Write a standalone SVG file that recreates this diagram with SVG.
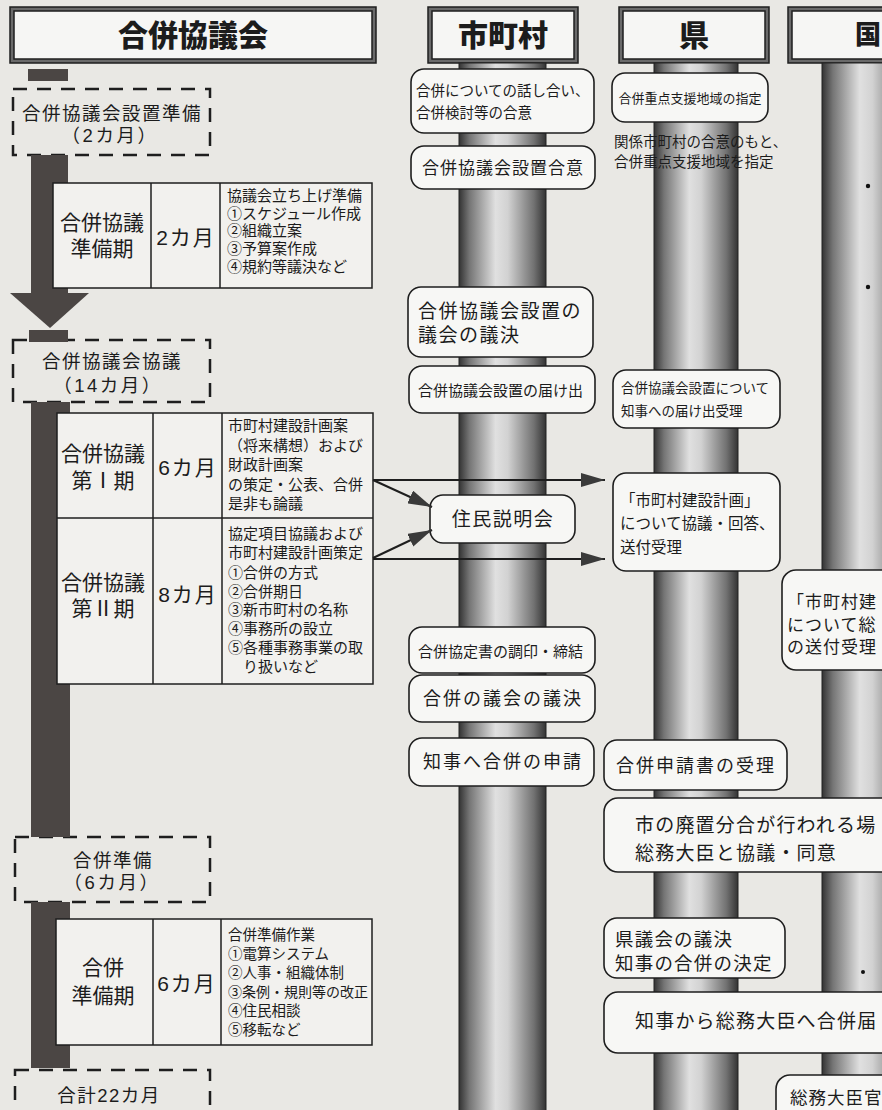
<svg xmlns="http://www.w3.org/2000/svg" width="882" height="1110" viewBox="0 0 882 1110">
<defs>
<linearGradient id="pg" x1="0" y1="0" x2="1" y2="0">
 <stop offset="0" stop-color="#333"/>
 <stop offset="0.12" stop-color="#757575"/>
 <stop offset="0.42" stop-color="#e0e0e0"/>
 <stop offset="0.56" stop-color="#d2d2d2"/>
 <stop offset="0.86" stop-color="#727272"/>
 <stop offset="1" stop-color="#333"/>
</linearGradient>
<marker id="ah" viewBox="0 0 24 14" refX="24" refY="7" markerWidth="24" markerHeight="14" markerUnits="userSpaceOnUse" orient="auto">
 <path d="M0,0 L24,7 L0,14 z" fill="#3a3a3a"/>
</marker>
<style>
 text{font-family:"Liberation Sans","Noto Sans CJK JP","Noto Sans CJK SC",sans-serif;fill:#1c1c1c}
 .hdo{fill:#6a6a6a;stroke:#1e1e1e;stroke-width:1.5}
 .hdi{fill:#f6f6f4;stroke:#1e1e1e;stroke-width:1.5}
 .hdt{font-size:30px;font-weight:900;text-anchor:middle;dominant-baseline:central}
 .pil{fill:url(#pg);stroke:#222;stroke-width:1}
 .nd{fill:#f7f7f5;stroke:#1e1e1e;stroke-width:1.6}
 .tb{fill:#f2f1ee;stroke:#1e1e1e;stroke-width:1.5}
 .bar{fill:#4b4644}
 .dash{fill:none;stroke:#1e1e1e;stroke-width:2.5;stroke-dasharray:14 10}
 .c{text-anchor:middle;dominant-baseline:central}
 .l{dominant-baseline:central}
 .big{font-size:21px}
 .sm{font-size:15px}
 .stg{font-size:18.5px;letter-spacing:1.5px}
 .con{stroke:#1e1e1e;stroke-width:2;fill:none}
 .div{stroke:#1e1e1e;stroke-width:1.5}
 .dot{fill:#111}
</style>
</defs>
<rect x="0" y="0" width="882" height="1110" fill="#e9e8e4"/>

<!-- lane headers -->
<g id="hdr-kyogikai">
 <rect class="hdo" x="10" y="7" width="366" height="56"/>
 <rect class="hdi" x="14" y="11" width="358" height="48"/>
 <text class="hdt" x="193" y="35">合併協議会</text>
</g>
<g id="hdr-shichoson">
 <rect class="hdo" x="428" y="7" width="150" height="56"/>
 <rect class="hdi" x="432" y="11" width="142" height="48"/>
 <text class="hdt" x="503" y="35">市町村</text>
</g>
<g id="hdr-ken">
 <rect class="hdo" x="619" y="7" width="150" height="56"/>
 <rect class="hdi" x="623" y="11" width="142" height="48"/>
 <text class="hdt" x="694" y="35">県</text>
</g>
<g id="hdr-kuni">
 <rect class="hdo" x="788" y="7" width="150" height="56"/>
 <rect class="hdi" x="792" y="11" width="142" height="48"/>
 <text class="hdt" x="868" y="35" style="font-size:26px">国</text>
</g>

<!-- pillars -->
<g id="pillars">
 <rect class="pil" x="459" y="63" width="87" height="1060"/>
 <rect class="pil" x="654" y="63" width="84" height="1060"/>
 <rect class="pil" x="822" y="63" width="90" height="1060"/>
 <circle class="dot" cx="868" cy="186" r="2.2"/>
 <circle class="dot" cx="868" cy="287" r="2.2"/>
 <circle class="dot" cx="863" cy="972" r="2"/>
</g>

<!-- left column: stages -->
<g id="stage-prep">
 <rect class="dash" x="13" y="89" width="197" height="66"/>
 <text class="c stg"><tspan x="112" y="113">合併協議会設置準備</tspan><tspan x="110" y="135" style="letter-spacing:2.5px">（2カ月）</tspan></text>
</g>
<g id="stage-kyogi">
 <rect class="dash" x="13" y="340" width="197" height="62"/>
 <text class="c stg"><tspan x="112" y="361">合併協議会協議</tspan><tspan x="108" y="385" style="letter-spacing:2.5px">（14カ月）</tspan></text>
</g>
<g id="stage-junbi">
 <rect class="dash" x="15" y="837" width="195" height="65"/>
 <text class="c stg"><tspan x="113" y="860">合併準備</tspan><tspan x="112" y="882" style="letter-spacing:2.5px">（6カ月）</tspan></text>
</g>
<g id="stage-total">
 <rect class="dash" x="15" y="1070" width="195" height="60"/>
 <text class="c stg" x="109" y="1095">合計22カ月</text>
</g>

<g id="timeline-bar">
 <rect class="bar" x="28" y="69" width="40" height="12"/>
 <rect class="bar" x="31" y="155" width="37" height="140"/>
 <polygon class="bar" points="10,293 89,293 50,328"/>
 <rect class="bar" x="29" y="330" width="39" height="12"/>
 <rect class="bar" x="31" y="402" width="39" height="435"/>
 <rect class="bar" x="31" y="902" width="39" height="166"/>
</g>

<g id="table-prep">
 <rect class="tb" x="53" y="183" width="319" height="105"/>
 <line class="div" x1="151" y1="183" x2="151" y2="288"/>
 <line class="div" x1="220" y1="183" x2="220" y2="288"/>
 <text class="c big"><tspan x="102" y="222">合併協議</tspan><tspan x="102" y="248">準備期</tspan></text>
 <text class="c big" x="186" y="237" style="letter-spacing:2px">2カ月</text>
 <text class="l sm"><tspan x="227" y="195">協議会立ち上げ準備</tspan><tspan x="227" y="213">①スケジュール作成</tspan><tspan x="227" y="230">②組織立案</tspan><tspan x="227" y="248">③予算案作成</tspan><tspan x="227" y="266">④規約等議決など</tspan></text>
</g>

<g id="table-kyogi">
 <rect class="tb" x="57" y="413" width="316" height="271"/>
 <line class="div" x1="57" y1="518" x2="373" y2="518"/>
 <line class="div" x1="153" y1="413" x2="153" y2="684"/>
 <line class="div" x1="222" y1="413" x2="222" y2="684"/>
 <text class="c big"><tspan x="103" y="453">合併協議</tspan><tspan x="103" y="480">第Ⅰ期</tspan></text>
 <text class="c big" x="188" y="467" style="letter-spacing:2px">6カ月</text>
 <text class="l sm"><tspan x="228" y="425">市町村建設計画案</tspan><tspan x="228" y="445">（将来構想）および</tspan><tspan x="228" y="464">財政計画案</tspan><tspan x="228" y="484">の策定・公表、合併</tspan><tspan x="228" y="503">是非も論議</tspan></text>
 <text class="c big"><tspan x="103" y="582">合併協議</tspan><tspan x="103" y="608">第Ⅱ期</tspan></text>
 <text class="c big" x="188" y="594" style="letter-spacing:2px">8カ月</text>
 <text class="l sm"><tspan x="228" y="533">協定項目協議および</tspan><tspan x="228" y="552">市町村建設計画策定</tspan><tspan x="228" y="572">①合併の方式</tspan><tspan x="228" y="591">②合併期日</tspan><tspan x="228" y="609">③新市町村の名称</tspan><tspan x="228" y="628">④事務所の設立</tspan><tspan x="228" y="647">⑤各種事務事業の取</tspan><tspan x="228" y="666">　り扱いなど</tspan></text>
</g>

<g id="table-junbi">
 <rect class="tb" x="56" y="919" width="316" height="126"/>
 <line class="div" x1="153" y1="919" x2="153" y2="1045"/>
 <line class="div" x1="221" y1="919" x2="221" y2="1045"/>
 <text class="c big"><tspan x="103" y="967">合併</tspan><tspan x="103" y="995">準備期</tspan></text>
 <text class="c big" x="187" y="983" style="letter-spacing:2px">6カ月</text>
 <text class="l" style="font-size:14.5px"><tspan x="228" y="935">合併準備作業</tspan><tspan x="228" y="954">①電算システム</tspan><tspan x="228" y="973">②人事・組織体制</tspan><tspan x="228" y="992" style="font-size:14px">③条例・規則等の改正</tspan><tspan x="228" y="1011">④住民相談</tspan><tspan x="228" y="1030">⑤移転など</tspan></text>
</g>

<!-- 市町村 nodes -->
<g id="m-hanashiai">
 <rect class="nd" x="411" y="69" width="183" height="64" rx="13"/>
 <text class="l" style="font-size:14.5px"><tspan x="416" y="91">合併についての話し合い、</tspan><tspan x="416" y="113">合併検討等の合意</tspan></text>
</g>
<g id="m-setchigoi">
 <rect class="nd" x="411" y="146" width="184" height="43" rx="13"/>
 <text class="c" x="503" y="168" style="font-size:17px;letter-spacing:1px">合併協議会設置合意</text>
</g>
<g id="m-gikai">
 <rect class="nd" x="408" y="287" width="185" height="70" rx="13"/>
 <text class="l" style="font-size:19px;letter-spacing:1.5px"><tspan x="418" y="311">合併協議会設置の</tspan><tspan x="418" y="335">議会の議決</tspan></text>
</g>
<g id="m-todokede">
 <rect class="nd" x="409" y="366" width="186" height="47" rx="13"/>
 <text class="l" x="418" y="390" style="font-size:15px">合併協議会設置の届け出</text>
</g>
<g id="m-setsumeikai">
 <rect class="nd" x="430" y="495" width="145" height="48" rx="13"/>
 <text class="c" x="503" y="519" style="font-size:19px;letter-spacing:1.5px">住民説明会</text>
</g>
<g id="m-choin">
 <rect class="nd" x="409" y="627" width="186" height="46" rx="13"/>
 <text class="l" x="418" y="651" style="font-size:15px">合併協定書の調印・締結</text>
</g>
<g id="m-giketsu">
 <rect class="nd" x="409" y="675" width="186" height="47" rx="13"/>
 <text class="c" x="503" y="699" style="font-size:18px;letter-spacing:2px">合併の議会の議決</text>
</g>
<g id="m-shinsei">
 <rect class="nd" x="409" y="738" width="185" height="48" rx="13"/>
 <text class="c" x="503" y="762" style="font-size:18px;letter-spacing:2px">知事へ合併の申請</text>
</g>

<!-- 県 nodes -->
<g id="k-shitei">
 <rect class="nd" x="612" y="73" width="156" height="49" rx="13"/>
 <text class="c" x="690" y="98" style="font-size:13px">合併重点支援地域の指定</text>
</g>
<g id="k-shitei-note">
 <text class="l" style="font-size:14.5px"><tspan x="614" y="142">関係市町村の合意のもと、</tspan><tspan x="614" y="162">合併重点支援地域を指定</tspan></text>
</g>
<g id="k-juri">
 <rect class="nd" x="613" y="370" width="167" height="58" rx="13"/>
 <text class="l" style="font-size:13.5px"><tspan x="621" y="388">合併協議会設置について</tspan><tspan x="621" y="411">知事への届け出受理</tspan></text>
</g>
<g id="k-kensetsu">
 <rect class="nd" x="613" y="473" width="167" height="98" rx="13"/>
 <text class="l" style="font-size:15.5px"><tspan x="620" y="500">「市町村建設計画」</tspan><tspan x="620" y="523">について協議・回答、</tspan><tspan x="620" y="547">送付受理</tspan></text>
</g>
<g id="k-shinseijuri">
 <rect class="nd" x="604" y="740" width="183" height="50" rx="13"/>
 <text class="c" x="696" y="766" style="font-size:18px;letter-spacing:2px">合併申請書の受理</text>
</g>
<g id="k-haichi">
 <rect class="nd" x="604" y="798" width="300" height="74" rx="14"/>
 <text class="l" style="font-size:19px;letter-spacing:1.2px"><tspan x="635" y="825">市の廃置分合が行われる場</tspan><tspan x="635" y="853">総務大臣と協議・同意</tspan></text>
</g>
<g id="k-kengikai">
 <rect class="nd" x="604" y="918" width="181" height="60" rx="13"/>
 <text class="l" style="font-size:18.5px;letter-spacing:1.2px"><tspan x="615" y="939">県議会の議決</tspan><tspan x="615" y="963">知事の合併の決定</tspan></text>
</g>
<g id="k-todoke">
 <rect class="nd" x="604" y="992" width="300" height="61" rx="14"/>
 <text class="l" x="635" y="1021" style="font-size:19px;letter-spacing:1.2px">知事から総務大臣へ合併届</text>
</g>

<!-- 国 nodes -->
<g id="n-sofu">
 <rect class="nd" x="782" y="570" width="130" height="100" rx="14"/>
 <text class="l" style="font-size:17px;letter-spacing:1px"><tspan x="787" y="602">「市町村建</tspan><tspan x="787" y="625">について総</tspan><tspan x="787" y="647">の送付受理</tspan></text>
</g>
<g id="n-kokuji">
 <rect class="nd" x="776" y="1075" width="130" height="60" rx="14"/>
 <text class="l" x="790" y="1098" style="font-size:17.5px;letter-spacing:1px">総務大臣官</text>
</g>

<!-- connectors -->
<g id="connectors">
 <line class="con" x1="373" y1="480" x2="605" y2="480" marker-end="url(#ah)"/>
 <line class="con" x1="373" y1="480" x2="432" y2="507" marker-end="url(#ah)"/>
 <line class="con" x1="373" y1="559" x2="605" y2="559" marker-end="url(#ah)"/>
 <line class="con" x1="373" y1="558" x2="432" y2="530" marker-end="url(#ah)"/>
</g>
</svg>
